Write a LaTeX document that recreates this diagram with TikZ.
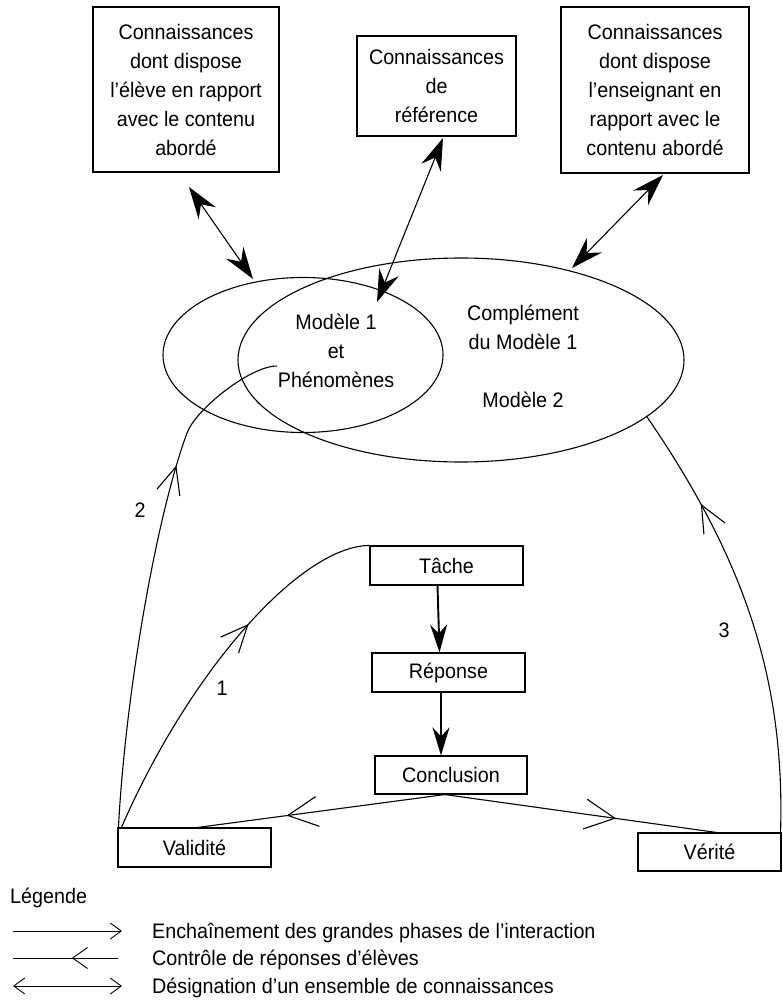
\documentclass[tikz,border=0pt]{standalone}
\usepackage{fontspec}
\setmainfont{Liberation Sans}[FakeStretch=0.94]
\usetikzlibrary{arrows.meta,shapes.geometric,decorations.markings}
\begin{document}
\begin{tikzpicture}[x=1pt,y=-1pt,
  every node/.style={font=\fontsize{21}{29}\selectfont, inner sep=0pt},
  kbox/.style={draw, line width=1.1pt, align=center},
  sbox/.style={draw, line width=1.1pt, minimum width=153pt, minimum height=39pt},
  ell/.style={draw, ellipse, line width=1.1pt},
  conn/.style={line width=1.1pt},
  bigdbl/.style={line width=1.1pt, {Stealth[length=32pt,width=21pt,inset=11pt]}-{Stealth[length=32pt,width=21pt,inset=11pt]}},
  thickarr/.style={line width=1.9pt, -{Stealth[length=28pt,width=17pt,inset=9pt]}},
  barbat/.style={postaction={decorate}, decoration={markings,
     mark=at position #1 with {\arrow{Straight Barb[length=27pt,width=24pt,line width=1.1pt]}}}},
  barbwide/.style={postaction={decorate}, decoration={markings,
     mark=at position #1 with {\arrow{Straight Barb[length=30pt,width=30pt,line width=1.1pt]}}}},
  legline/.style={line width=0.9pt}
]
\useasboundingbox (0,0) rectangle (782,1003);

% ellipses
\node[ell, minimum width=280pt, minimum height=155pt] (elA) at (303,355) {};
\node[ell, minimum width=446pt, minimum height=204pt] (elB) at (461,360) {};

\node[align=center] (m1) at (336,351) {Modèle 1\\et\\Phénomènes};
\node[align=center] (comp) at (523,327.5) {Complément\\du Modèle 1};
\node (m2) at (523,400) {Modèle 2};

% knowledge boxes
\node[kbox, minimum width=186pt, minimum height=165pt] (b1) at (186,89.5)
  {Connaissances\\dont dispose\\l’élève en rapport\\avec le contenu\\abordé};
\node[kbox, minimum width=159pt, minimum height=100pt] (b2) at (436.5,86)
  {Connaissances\\de\\référence};
\node[kbox, minimum width=188pt, minimum height=166pt] (b3) at (655,90)
  {Connaissances\\dont dispose\\l’enseignant en\\rapport avec le\\contenu abordé};

\coordinate (a1s) at (189,187);
\coordinate (a1e) at (253,279);
\coordinate (a2s) at (443,138);
\coordinate (a2e) at (377,302);
\coordinate (a3s) at (663,175);
\coordinate (a3e) at (572,268);
\draw[bigdbl] (a1s) -- (a1e);
\draw[bigdbl] (a2s) -- (a2e);
\draw[bigdbl] (a3s) -- (a3e);

% task boxes
\node[sbox] (tache) at (446.5,565.5) {Tâche};
\node[sbox] (rep) at (448.5,672.5) {Réponse};
\node[sbox, minimum width=152pt, minimum height=38pt] (concl) at (451,775) {Conclusion};
\node[sbox] (val) at (194.5,847.5) {Validité};
\node[sbox, minimum width=143pt, minimum height=38pt] (ver) at (709.5,852) {Vérité};

\draw[thickarr] ([xshift=-9pt]tache.south) -- ([xshift=-9pt]rep.north);
\draw[thickarr] ([xshift=-7.5pt]rep.south) -- ([xshift=-10pt]concl.north);

\draw[conn, barbwide=0.64] ([xshift=-6pt]concl.south) -- ([xshift=3pt]val.north);
\draw[conn, barbwide=0.63] ([xshift=-6pt]concl.south) -- ([xshift=7pt]ver.north);

% curves
\coordinate (c2e) at (277,366);
\draw[conn, barbat=0.62] ([xshift=4pt]val.north west) .. controls (189,672) and (300,546) .. (tache.north west);
\draw[conn, barbat=0.71] ([xshift=1pt]val.north west) .. controls (125,700) and (155,520) .. (187,433)
   .. controls (195.6,409.5) and (250,366) .. (c2e);
\draw[conn, barbat=0.77] ([xshift=-1pt]ver.north east) .. controls (785,680) and (745,560) .. (elB.-17);

\node (l1) at (222,688) {1};
\node (l2) at (140,510) {2};
\node (l3) at (724,630) {3};

% legend
\node[anchor=base west] (leg) at (10,903) {Légende};
\coordinate (g1a) at (13,931); \coordinate (g1b) at (122,931);
\coordinate (g2a) at (13,958); \coordinate (g2b) at (118,958);
\coordinate (g3a) at (13,986); \coordinate (g3b) at (122,986);
\draw[legline, -{Straight Barb[length=11pt,width=16pt]}] (g1a) -- (g1b);
\draw[legline, postaction={decorate}, decoration={markings,
  mark=at position 0.44 with {\arrow{Straight Barb[length=15pt,width=21pt]}}}] (g2b) -- (g2a);
\draw[legline, {Straight Barb[length=11pt,width=16pt]}-{Straight Barb[length=11pt,width=16pt]}] (g3a) -- (g3b);
\node[anchor=base west] (t1) at (152,938) {Enchaînement des grandes phases de l’interaction};
\node[anchor=base west] (t2) at (152,965) {Contrôle de réponses d’élèves};
\node[anchor=base west] (t3) at (152,993) {Désignation d’un ensemble de connaissances};
\end{tikzpicture}
\end{document}
